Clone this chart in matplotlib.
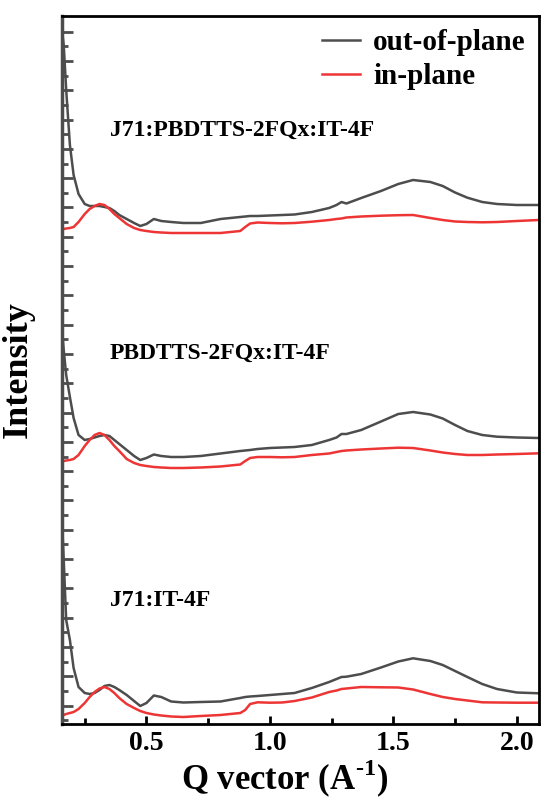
import matplotlib
matplotlib.use("Agg")
import matplotlib.pyplot as plt
from matplotlib.ticker import MultipleLocator, FixedLocator, NullFormatter
import numpy as np

plt.rcParams['font.family'] = ['Liberation Serif', 'DejaVu Serif']
plt.rcParams['mathtext.fontset'] = 'custom'
plt.rcParams['mathtext.rm'] = 'Liberation Serif:bold'
plt.rcParams['mathtext.bf'] = 'Liberation Serif:bold'

# Q vector (A^-1)
q = [0.158, 0.165, 0.175, 0.19, 0.205, 0.225, 0.25, 0.27, 0.29, 0.31, 0.33, 0.35, 0.37, 0.39,
     0.42, 0.45, 0.475, 0.50, 0.53, 0.56, 0.60, 0.65, 0.72, 0.80, 0.88, 0.90, 0.92, 0.95, 1.00,
     1.05, 1.10, 1.17, 1.24, 1.27, 1.29, 1.31, 1.37, 1.45, 1.52, 1.58, 1.65, 1.70, 1.75, 1.80,
     1.86, 1.92, 2.00, 2.09]

# J71:PBDTTS-2FQx:IT-4F (offset curves, a.u.)
top_out = [694, 679, 634, 579, 549, 530, 520, 518, 518, 518, 517, 516, 513, 509, 505, 501, 498,
           500, 505, 503, 502, 501, 501, 505, 507, 507.5, 508, 508, 508.5, 509, 509.5, 512, 516,
           519, 522, 520.5, 526, 533, 540, 544, 542, 538, 531.5, 526.3, 522, 520, 519, 519]
top_in = [495, 495, 495.5, 496, 497, 502, 510, 515, 518, 520, 519, 515, 510, 506, 500, 496, 494,
          493, 492, 491.5, 491, 491, 491, 491, 493, 497, 500.5, 501.5, 501, 500.7, 501, 502.3,
          504, 505, 505.5, 506.5, 507.5, 508.3, 508.8, 509, 506, 504, 502.5, 502, 501.7, 502,
          503, 504]

# PBDTTS-2FQx:IT-4F
mid_out = [394, 374, 349, 327, 306, 289, 284, 285, 286.5, 288, 289, 288, 284, 280, 274, 268, 264,
           266, 269.5, 268, 267, 267, 268, 270.5, 273, 273.5, 274, 275, 276, 276.5, 277, 279, 284,
           286.5, 290, 290, 294, 302.5, 310, 312, 309.5, 305.5, 299, 293, 289, 287.3, 286.5, 286]
mid_in = [263, 263, 263.5, 264, 265, 269, 278, 284, 289, 291, 289, 284, 278, 273, 265, 261, 259,
          258, 257, 256.5, 256, 256, 256.5, 257.5, 259.5, 263, 266, 267, 267, 266.7, 267, 269,
          270.5, 272, 273, 273.5, 274.5, 275.5, 276.3, 276, 273.5, 271.5, 270, 269, 269, 269.5,
          270, 270.7]

# J71:IT-4F
bot_out = [204, 164, 104, 84, 56, 37, 31, 30, 31, 34, 38, 39, 37, 34, 29, 23, 18, 21, 28.5, 27,
           22.5, 21.5, 22, 22.5, 26, 27, 27.5, 28, 29, 30, 31, 36, 42, 45, 47, 47.3, 50, 56.5,
           62.5, 65.7, 63, 59, 53, 47, 40, 35, 31.5, 30.7]
bot_in = [9, 9, 10, 11, 12, 15, 21, 27, 32, 35.5, 37, 35, 31, 26, 20, 16, 13, 11, 9.5, 8.5, 7.5,
          7, 8, 9, 11, 14, 20, 21.7, 21.3, 21.5, 23, 26.5, 32, 33.5, 35, 35.5, 37, 36.7, 36.5,
          34.5, 30, 27, 25, 23.5, 21.7, 21.5, 21.3, 21.3]

labels = ["J71:PBDTTS-2FQx:IT-4F", "PBDTTS-2FQx:IT-4F", "J71:IT-4F"]
label_y = [594, 371, 123]
x_ticks = [0.5, 1.0, 1.5, 2.0]

gray = '#4d4d4d'
red = '#ee3535'

fig = plt.figure(figsize=(5.41, 8.01), dpi=100)
ax = fig.add_axes([62 / 541, 77 / 801, 477 / 541, 708 / 801])

ax.plot(q, top_out, color=gray, lw=1.8, label='out-of-plane')
ax.plot(q, top_in, color=red, lw=1.8, label='in-plane')
ax.plot(q, mid_out, color=gray, lw=1.8)
ax.plot(q, mid_in, color=red, lw=1.8)
ax.plot(q, bot_out, color=gray, lw=1.8)
ax.plot(q, bot_in, color=red, lw=1.8)

for t, y in zip(labels, label_y):
    ax.text(0.352, y, t, fontsize=17, fontweight='bold', va='center', ha='left')

ax.set_xlim(0.158, 2.09)
ax.set_ylim(0, 708)

ax.xaxis.set_major_locator(FixedLocator(x_ticks))
ax.xaxis.set_minor_locator(MultipleLocator(0.25))
ax.set_xticklabels([f"{v:.1f}" for v in x_ticks])
ax.tick_params(axis='x', which='major', direction='in', length=6, width=2, labelsize=20,
               pad=5, top=False, colors='black')
ax.tick_params(axis='x', which='minor', direction='in', length=4, width=2, top=False)
for lbl in ax.get_xticklabels():
    lbl.set_fontweight('bold')

ymaj = list(np.arange(692.3, 0, -29.3))
ymin = list(np.arange(692.3 - 14.65, 0, -29.3))
ax.yaxis.set_major_locator(FixedLocator(ymaj))
ax.yaxis.set_minor_locator(FixedLocator(ymin))
ax.yaxis.set_major_formatter(NullFormatter())
ax.tick_params(axis='y', which='major', direction='in', length=8, width=2, color=gray,
               right=False)
ax.tick_params(axis='y', which='minor', direction='in', length=4, width=2, color=gray,
               right=False)

for s in ['top', 'right', 'bottom']:
    ax.spines[s].set_linewidth(2)
    ax.spines[s].set_color('black')
ax.spines['left'].set_linewidth(2.5)
ax.spines['left'].set_color(gray)

ax.set_xlabel('Q vector (A$^{\\text{-}1}$)', fontsize=25, fontweight='bold')
ax.xaxis.label.set_va('center')
ax.xaxis.set_label_coords(0.4675, -0.077)
ax.set_ylabel('Intensity', fontsize=26, fontweight='bold')
ax.yaxis.set_label_coords(-0.058, 0.5)

leg = ax.legend(loc='upper right', frameon=False, prop={'weight': 'bold', 'size': 21},
                handlelength=1.3, handletextpad=0.45, borderaxespad=0.05, labelspacing=0.25)

fig.savefig('out.png', dpi=100)
